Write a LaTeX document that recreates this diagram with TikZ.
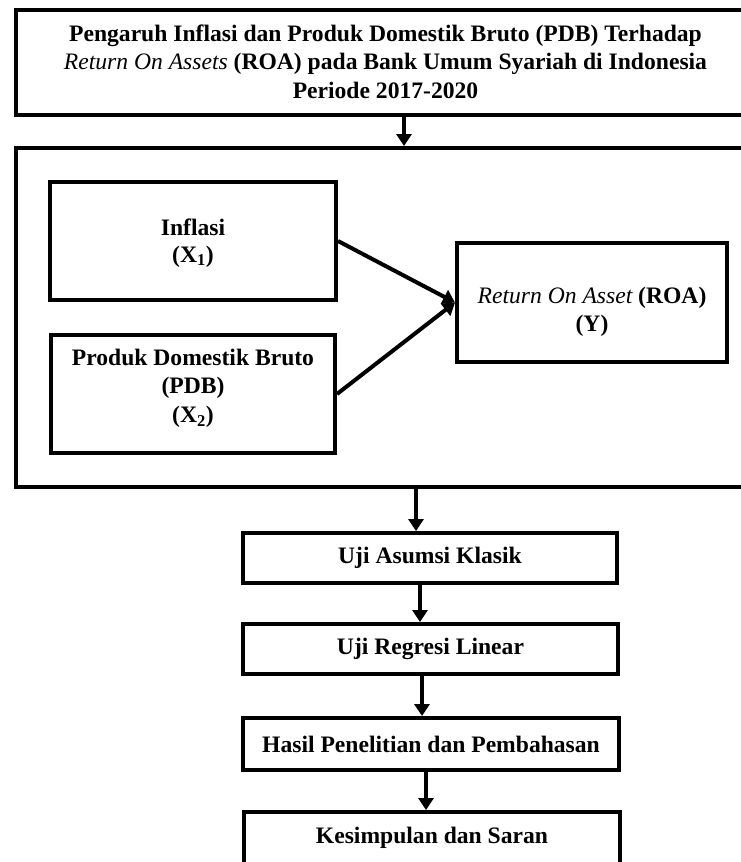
\documentclass[tikz,border=0pt]{standalone}
\usepackage{fontspec}
\setmainfont{Liberation Serif}
\usetikzlibrary{arrows.meta}
\begin{document}
\begin{tikzpicture}[x=1pt,y=-1pt,
  box/.style={draw, line width=4pt, align=center, inner sep=0pt,
    font=\fontsize{23.6}{29.5}\selectfont\bfseries},
  frame/.style={draw, line width=4pt, inner sep=0pt},
  arr/.style={line width=4pt, -{Triangle[width=15pt,length=12pt]}}]
\useasboundingbox (0,0) rectangle (741,862);
\clip (0,0) rectangle (741,862);
\fill[white] (0,0) rectangle (741,862);
% title box
\node[box, minimum width=739pt, minimum height=105pt] (title) at (385.5,62.5)
  {\raisebox{-1.5pt}[\height][\depth]{\begin{tabular}{@{}c@{}}Pengaruh Inflasi dan Produk Domestik Bruto (PDB) Terhadap\\[-1pt]
   {\mdseries\itshape Return On Assets} (ROA) pada Bank Umum Syariah di Indonesia\\[-1pt]
   Periode 2017-2020\end{tabular}}};
% big frame
\node[frame, minimum width=739pt, minimum height=339pt] (big) at (385.5,317.5) {};
% inner boxes
\node[box, minimum width=286pt, minimum height=118pt] (inf) at (193,241)
  {\raisebox{-2pt}[\height][\depth]{\begin{tabular}{@{}c@{}}Inflasi\\[-3pt](X\textsubscript{1})\end{tabular}}};
\node[box, minimum width=284pt, minimum height=118pt] (pdb) at (193,394)
  {\raisebox{6pt}[\height][\depth]{\begin{tabular}{@{}c@{}}Produk Domestik Bruto\\[-1pt](PDB)\\[-1pt](X\textsubscript{2})\end{tabular}}};
\node[box, minimum width=270pt, minimum height=119pt] (roa) at (592,302.5)
  {\raisebox{-9pt}[\height][\depth]{\begin{tabular}{@{}c@{}}{\mdseries\itshape Return On Asset} (ROA)\\[-2pt](Y)\end{tabular}}};
\draw[arr] (inf.east) -- (roa.west);
\draw[arr] (pdb.east) -- (roa.west);
% lower chain
\node[box, minimum width=374pt, minimum height=50pt] (uji1) at (430,558) {Uji Asumsi Klasik};
\node[box, minimum width=375pt, minimum height=50pt] (uji2) at (430.5,649) {Uji Regresi Linear};
\node[box, minimum width=376pt, minimum height=52pt] (hasil) at (431,744) {Hasil Penelitian dan Pembahasan};
\node[box, minimum width=376pt, minimum height=52pt] (kes) at (432,838) {Kesimpulan dan Saran};
% connector x positions
\coordinate (c0) at (404,0);
\coordinate (c1) at (416,0);
\coordinate (c2) at (420,0);
\coordinate (c3) at (422,0);
\coordinate (c4) at (426,0);
\draw[arr] (title.south -| c0) -- (big.north -| c0);
\draw[arr] (big.south -| c1) -- (uji1.north -| c1);
\draw[arr] (uji1.south -| c2) -- (uji2.north -| c2);
\draw[arr] (uji2.south -| c3) -- (hasil.north -| c3);
\draw[arr] (hasil.south -| c4) -- (kes.north -| c4);
\end{tikzpicture}
\end{document}
